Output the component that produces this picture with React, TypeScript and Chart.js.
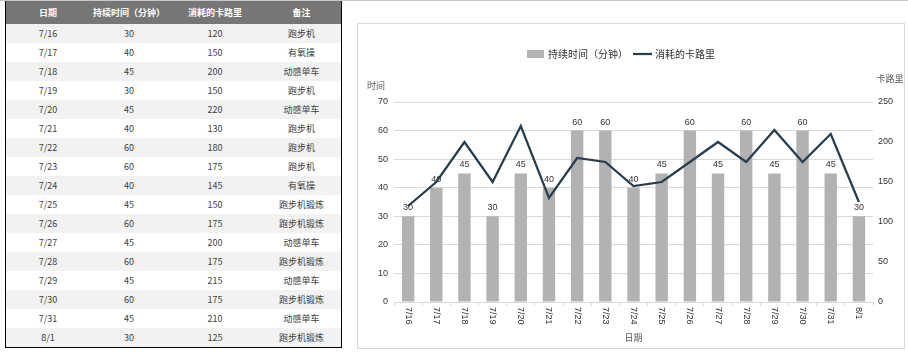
import React, { useEffect, useRef } from 'react';
import { Chart, registerables } from 'chart.js';

Chart.register(...registerables);

const dates = ['7/16', '7/17', '7/18', '7/19', '7/20', '7/21', '7/22', '7/23', '7/24', '7/25', '7/26', '7/27', '7/28', '7/29', '7/30', '7/31', '8/1'];
const durations = [30, 40, 45, 30, 45, 40, 60, 60, 40, 45, 60, 45, 60, 45, 60, 45, 30];
const calories = [120, 150, 200, 150, 220, 130, 180, 175, 145, 150, 175, 200, 175, 215, 175, 210, 125];
const notes = ['跑步机', '有氧操', '动感单车', '跑步机', '动感单车', '跑步机', '跑步机', '跑步机', '有氧操', '跑步机锻炼', '跑步机锻炼', '动感单车', '跑步机锻炼', '动感单车', '跑步机锻炼', '动感单车', '跑步机锻炼'];

const tableHeaders = ['日期', '持续时间（分钟）', '消耗的卡路里', '备注'];
const seriesNames = ['持续时间（分钟）', '消耗的卡路里'];
const leftAxisTitle = '时间';
const rightAxisTitle = '卡路里';
const xAxisTitle = '日期';
const leftAxisRange = [0, 70, 10];
const rightAxisRange = [0, 250, 50];

const BAR = '#b2b2b2';
const LINE = '#283e4d';
const GRID = '#d9d9d9';
const FONT = "'Liberation Sans', 'Noto Sans CJK SC', sans-serif";
const colWidths = [84, 78, 94, 79];

const decor = {
  id: 'decor',
  afterDatasetsDraw(chart: any) {
    const ctx = chart.ctx;
    const meta = chart.getDatasetMeta(1);
    ctx.save();
    ctx.font = `9px ${FONT}`;
    ctx.fillStyle = '#333';
    ctx.textAlign = 'center';
    ctx.textBaseline = 'alphabetic';
    meta.data.forEach((el: any, i: number) => {
      ctx.fillText(String(durations[i]), el.x, el.y - 6);
    });
    ctx.restore();
  },
  afterDraw(chart: any) {
    const ctx = chart.ctx;
    const area = chart.chartArea;
    const xs = chart.scales.x;
    ctx.save();
    // rotated category labels (reading top to bottom)
    ctx.font = `9px ${FONT}`;
    ctx.fillStyle = '#333';
    dates.forEach((d, i) => {
      const x = xs.getPixelForValue(i);
      ctx.save();
      ctx.translate(x, area.bottom + 5);
      ctx.rotate(Math.PI / 2);
      ctx.textAlign = 'left';
      ctx.textBaseline = 'middle';
      ctx.fillText(d, 0, 0);
      ctx.restore();
    });
    // axis titles
    ctx.font = `9px ${FONT}`;
    ctx.fillStyle = '#595959';
    ctx.textBaseline = 'middle';
    ctx.textAlign = 'right';
    ctx.fillText(leftAxisTitle, area.left - 9, area.top - 15);
    ctx.textAlign = 'center';
    ctx.fillText(rightAxisTitle, area.right + 7 + 10, area.top - 22);
    ctx.fillText(xAxisTitle, (area.left + area.right) / 2, area.bottom + 37);
    // legend
    ctx.font = `10px ${FONT}`;
    const w1 = ctx.measureText(seriesNames[0]).width;
    const w2 = ctx.measureText(seriesNames[1]).width;
    const total = 17 + 4 + w1 + 5 + 19 + 3 + w2;
    let lx = (chart.width - total) / 2 - 10;
    const ly = 31;
    ctx.fillStyle = BAR;
    ctx.fillRect(lx, ly - 5, 17, 8);
    lx += 17 + 4;
    ctx.fillStyle = '#333';
    ctx.textAlign = 'left';
    ctx.textBaseline = 'middle';
    ctx.fillText(seriesNames[0], lx, ly);
    lx += w1 + 5;
    ctx.strokeStyle = LINE;
    ctx.lineWidth = 2.25;
    ctx.beginPath();
    ctx.moveTo(lx, ly - 1);
    ctx.lineTo(lx + 19, ly - 1);
    ctx.stroke();
    lx += 19 + 3;
    ctx.fillText(seriesNames[1], lx, ly);
    ctx.restore();
  },
};

function ChartPanel() {
  const ref = useRef<HTMLCanvasElement>(null);
  useEffect(() => {
    if (!ref.current) return;
    const chart = new Chart(ref.current, {
      type: 'bar',
      data: {
        labels: dates,
        datasets: [
          {
            type: 'line',
            label: seriesNames[1],
            data: calories,
            yAxisID: 'y1',
            borderColor: LINE,
            backgroundColor: LINE,
            borderWidth: 2.25,
            pointRadius: 0,
            tension: 0,
            fill: false,
            borderJoinStyle: 'miter',
            order: 0,
          } as any,
          {
            type: 'bar',
            label: seriesNames[0],
            data: durations,
            yAxisID: 'y',
            backgroundColor: BAR,
            barPercentage: 0.44,
            categoryPercentage: 1,
            order: 1,
          } as any,
        ],
      },
      options: {
        animation: false,
        responsive: false,
        devicePixelRatio: 1,
        layout: { padding: { top: 78, left: 0, right: 0, bottom: 0 } },
        plugins: { legend: { display: false }, tooltip: { enabled: false } },
        scales: {
          x: {
            offset: true,
            grid: { display: true, drawOnChartArea: false, drawTicks: true, tickLength: 4, color: GRID, offset: true },
            border: { display: true, color: GRID },
            ticks: { display: false },
            afterFit: (s: any) => { s.height = 46; },
          } as any,
          y: {
            position: 'left',
            min: leftAxisRange[0],
            max: leftAxisRange[1],
            ticks: { stepSize: leftAxisRange[2], padding: 6, font: { size: 9, family: FONT }, color: '#333' },
            grid: { color: GRID, drawTicks: false },
            border: { display: false },
            afterFit: (s: any) => { s.width = 36; },
          } as any,
          y1: {
            position: 'right',
            min: rightAxisRange[0],
            max: rightAxisRange[1],
            ticks: { stepSize: rightAxisRange[2], padding: 5, font: { size: 9, family: FONT }, color: '#333' },
            grid: { display: false, drawTicks: false },
            border: { display: false },
            afterFit: (s: any) => { s.width = 31; },
          } as any,
        },
      },
      plugins: [decor],
    });
    return () => chart.destroy();
  }, []);
  return <canvas ref={ref} width={546} height={324} style={{ display: 'block', width: 546, height: 324 }} />;
}

function DataTable() {
  const cell = (w: number, content: string, key: number) => (
    <div key={key} style={{ width: w, display: 'flex', alignItems: 'center', justifyContent: 'center', whiteSpace: 'nowrap' }}>{content}</div>
  );
  return (
    <div
      style={{
        position: 'absolute', left: 5, top: 1, width: 337, boxSizing: 'border-box',
        borderLeft: '1px solid #000', borderRight: '1px solid #000', borderBottom: '1px solid #000',
        fontFamily: "'Noto Sans CJK SC', sans-serif", fontSize: 9, lineHeight: 1,
      }}
    >
      <div style={{ height: 23, display: 'flex', background: '#767676', color: '#fff', fontWeight: 'bold' }}>
        {tableHeaders.map((h, i) => cell(colWidths[i], h, i))}
      </div>
      {dates.map((d, r) => (
        <div key={r} style={{ height: 19, display: 'flex', background: r % 2 === 0 ? '#f2f2f2' : '#ffffff', color: '#404040' }}>
          {cell(colWidths[0], d, 0)}
          {cell(colWidths[1], String(durations[r]), 1)}
          {cell(colWidths[2], String(calories[r]), 2)}
          {cell(colWidths[3], notes[r], 3)}
        </div>
      ))}
    </div>
  );
}

export default function App() {
  return (
    <div style={{ position: 'fixed', left: 0, top: 0, width: 908, height: 354, background: '#fff', overflow: 'hidden' }}>
      <div style={{ position: 'absolute', left: 0, top: 0, width: 908, height: 1, background: '#c8c8c8' }} />
      <DataTable />
      <div style={{ position: 'absolute', left: 357, top: 23, width: 548, height: 326, boxSizing: 'border-box', border: '1px solid #d9d9d9' }}>
        <ChartPanel />
      </div>
    </div>
  );
}
